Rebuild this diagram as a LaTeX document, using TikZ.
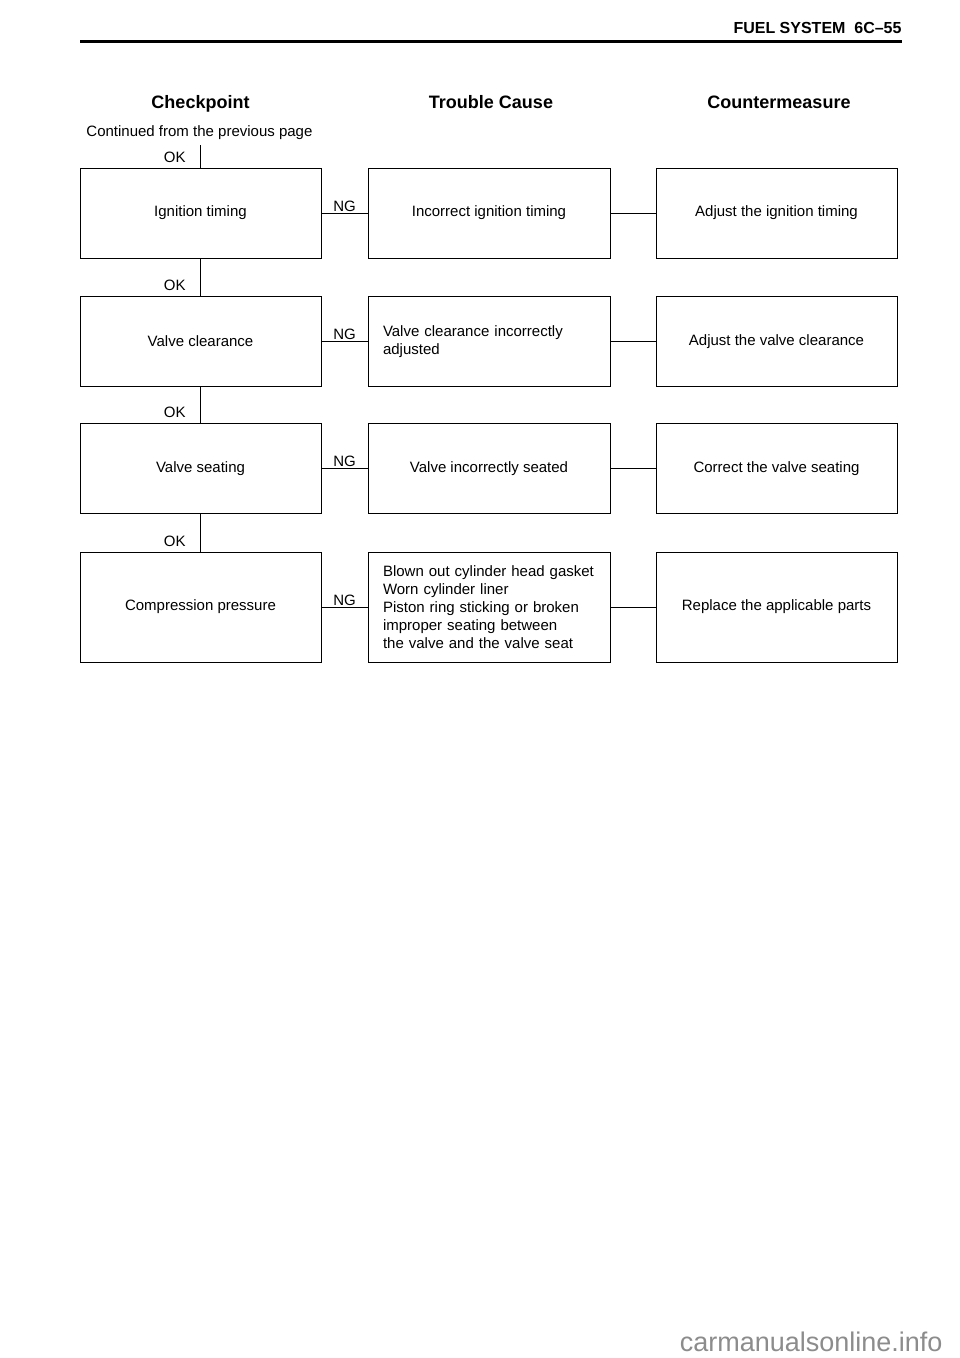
\documentclass[tikz,border=0pt]{standalone}
\usepackage{fontspec}
\setmainfont{Liberation Sans}
\begin{document}
\begin{tikzpicture}[x=1pt,y=-1pt,
		every path/.style={line width=0.9pt},
		bodytext/.style={inner sep=0pt, font=\fontsize{15}{18}\selectfont},
		colhead/.style={anchor=base, inner sep=0pt, font=\fontsize{18}{21}\selectfont\bfseries},
		chkbox/.style={draw, bodytext, minimum width=241pt, minimum height=90pt},
		causebox/.style={draw, bodytext, minimum width=242pt, minimum height=90pt},
		causelist/.style={causebox, text width=212pt, align=left},
		measbox/.style={draw, bodytext, minimum width=241pt, minimum height=90pt},
		nglabel/.style={above, bodytext, inner sep=1pt},
		oklabel/.style={pos=1, anchor=south east, bodytext, inner sep=2pt, xshift=-12.5pt, yshift=2.5pt}]
			\useasboundingbox (0,0) rectangle (960,1358);

			% page header
			\node[anchor=east, inner sep=0pt, font=\fontsize{16}{19}\selectfont\bfseries] (title) at (902,28) {FUEL SYSTEM\ \ 6C--55};
			\draw [line width=3pt] (80,41) -- (902,41);

			\node[colhead] (hchk) at (200.5,108) {Checkpoint};
			\node[colhead] (hcause) at (491,108) {Trouble Cause};
			\node[colhead] (hmeas) at (779,108) {Countermeasure};

			\node[bodytext, anchor=west] (cont) at (86,133) {Continued from the previous page};
			\coordinate (start) at (200.5,145);

			% checkpoints
			\node[chkbox] (chk1) at (200.5,213) {Ignition timing};
			\node[chkbox] (chk2) at (200.5,341.5) {Valve clearance};
			\node[chkbox] (chk3) at (200.5,468.5) {Valve seating};
			\node[chkbox, minimum height=110pt] (chk4) at (200.5,607) {Compression pressure};

			% trouble causes
			\node[causebox] (cause1) at (489,213) {Incorrect ignition timing};
			\node[causelist] (cause2) at (489,341.5) {Valve clearance incorrectly\\adjusted};
			\node[causebox] (cause3) at (489,468.5) {Valve incorrectly seated};
			\node[causelist, minimum height=110pt] (cause4) at (489,607) {Blown out cylinder head gasket\\Worn cylinder liner\\Piston ring sticking or broken\\improper seating between\\the valve and the valve seat};

			% countermeasures
			\node[measbox] (meas1) at (776.5,213) {Adjust the ignition timing};
			\node[measbox] (meas2) at (776.5,341.5) {Adjust the valve clearance};
			\node[measbox] (meas3) at (776.5,468.5) {Correct the valve seating};
			\node[measbox, minimum height=110pt] (meas4) at (776.5,607) {Replace the applicable parts};

			% OK flow
			\draw (start) -- node[oklabel] {OK} (chk1.north);
			\draw (chk1.south) -- node[oklabel] {OK} (chk2.north);
			\draw (chk2.south) -- node[oklabel] {OK} (chk3.north);
			\draw (chk3.south) -- node[oklabel] {OK} (chk4.north);

			% NG flow
			\draw (chk1.east) -- node[nglabel] {NG} (cause1.west);
			\draw (chk2.east) -- node[nglabel] {NG} (cause2.west);
			\draw (chk3.east) -- node[nglabel] {NG} (cause3.west);
			\draw (chk4.east) -- node[nglabel] {NG} (cause4.west);

			\draw (cause1.east) -- (meas1.west);
			\draw (cause2.east) -- (meas2.west);
			\draw (cause3.east) -- (meas3.west);
			\draw (cause4.east) -- (meas4.west);

			\node[anchor=east, inner sep=0pt, text=black!45, font=\fontsize{27}{30}\selectfont] (mark) at (943,1342) {carmanualsonline.info};
		\end{tikzpicture}
\end{document}
